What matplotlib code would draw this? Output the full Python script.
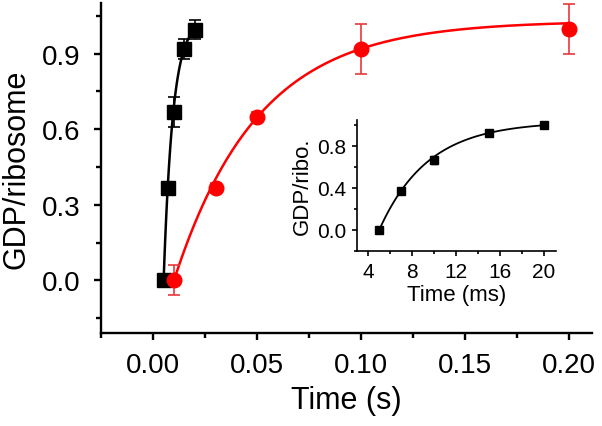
import numpy as np
import matplotlib
matplotlib.use("Agg")
import matplotlib.pyplot as plt
from matplotlib.ticker import MultipleLocator, FormatStrFormatter

plt.rcParams['font.family'] = ['Liberation Sans', 'DejaVu Sans']

# ---- data ----
black_t = [0.005, 0.007, 0.010, 0.015, 0.020]          # s
black_y = [0.00, 0.366, 0.667, 0.919, 0.995]
black_err = [0.0, 0.0, 0.06, 0.04, 0.038]

red_t = [0.010, 0.030, 0.050, 0.100, 0.200]            # s
red_y = [0.00, 0.365, 0.649, 0.919, 0.998]
red_err = [0.06, 0.02, 0.02, 0.10, 0.098]

inset_t = [5, 7, 10, 15, 20]                           # ms
inset_y = [0.00, 0.366, 0.667, 0.919, 0.995]
inset_err = [0.0, 0.015, 0.04, 0.015, 0.015]

# single-exponential fit parameters (amplitude, rate, lag)
black_fit = (1.03, 225.0, 0.005)   # rate in 1/s
red_fit = (1.03, 24.8, 0.010)

def expfit(t, p):
    A, k, t0 = p
    return A * (1 - np.exp(-k * (t - t0)))

fig = plt.figure(figsize=(6.02, 4.27), dpi=100)
ax = fig.add_axes([0.1678, 0.2186, 0.8151, 0.7720])

lw_sp = 1.7
for s in ['top', 'right']:
    ax.spines[s].set_visible(False)
for s in ['left', 'bottom']:
    ax.spines[s].set_linewidth(lw_sp)

tb = np.linspace(black_fit[2], 0.020, 100)
ax.plot(tb, expfit(tb, black_fit), color='black', lw=1.8, zorder=2)
tr = np.linspace(red_fit[2], 0.200, 300)
ax.plot(tr, expfit(tr, red_fit), color='#ff0000', lw=1.8, zorder=2)

ax.errorbar(black_t, black_y, yerr=black_err, fmt='s', color='black',
            ms=9.5, capsize=4, elinewidth=1.2, capthick=1.2, zorder=3)
ax.errorbar(red_t, red_y, yerr=red_err, fmt='o', color='#ff0000',
            ecolor='#e8383a', ms=10.5, capsize=4, elinewidth=1.2,
            capthick=1.2, zorder=3)

ax.set_xlim(-0.0251, 0.2108)
ax.set_ylim(-0.208, 1.101)
ax.xaxis.set_major_locator(MultipleLocator(0.05))
ax.xaxis.set_minor_locator(MultipleLocator(0.025))
ax.yaxis.set_major_locator(MultipleLocator(0.3))
ax.yaxis.set_minor_locator(MultipleLocator(0.15))
ax.xaxis.set_major_formatter(FormatStrFormatter('%.2f'))
ax.yaxis.set_major_formatter(FormatStrFormatter('%.1f'))
ax.tick_params(which='major', direction='out', length=5, width=1.7,
               labelsize=20, pad=9)
ax.tick_params(which='minor', direction='out', length=3.5, width=1.7)
ax.tick_params(axis='y', which='major', pad=10)
ax.set_xlabel('Time (s)', fontsize=22, labelpad=5)
ax.set_ylabel('GDP/ribosome', fontsize=22, labelpad=7)

# ---- inset ----
ax2 = fig.add_axes([0.5925, 0.4087, 0.3306, 0.3079])
for s in ['top', 'right']:
    ax2.spines[s].set_visible(False)
for s in ['left', 'bottom']:
    ax2.spines[s].set_linewidth(1.2)
ti = np.linspace(5, 20, 100)
ax2.plot(ti, expfit(ti / 1000.0, black_fit), color='black', lw=1.3)
ax2.errorbar(inset_t, inset_y, yerr=inset_err, fmt='s', color='black',
             ms=6, capsize=2.5, elinewidth=1, capthick=1)
ax2.set_xlim(2.94, 21.1)
ax2.set_ylim(-0.206, 1.045)
ax2.xaxis.set_major_locator(MultipleLocator(4))
ax2.xaxis.set_minor_locator(MultipleLocator(2))
ax2.yaxis.set_major_locator(MultipleLocator(0.4))
ax2.yaxis.set_minor_locator(MultipleLocator(0.2))
ax2.yaxis.set_major_formatter(FormatStrFormatter('%.1f'))
ax2.tick_params(which='major', direction='out', length=3.5, width=1.2,
                labelsize=15, pad=4)
ax2.tick_params(which='minor', direction='out', length=2.5, width=1.2)
ax2.set_xlabel('Time (ms)', fontsize=16, labelpad=2)
ax2.set_ylabel('GDP/ribo.', fontsize=16, labelpad=3)

fig.savefig('out.png', dpi=100)
